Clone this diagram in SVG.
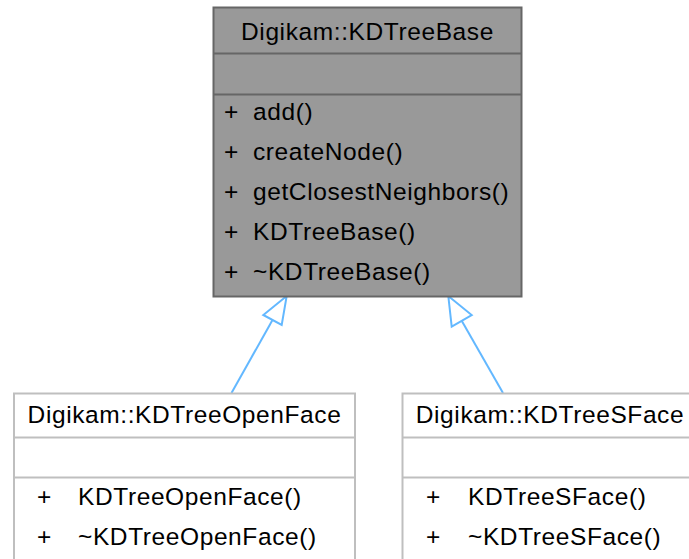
<svg xmlns="http://www.w3.org/2000/svg" width="689" height="559" viewBox="0 0 689 559">
<style>
text{font-family:"Liberation Sans",Arial,Helvetica,sans-serif;font-size:24.5px;letter-spacing:0.6px;fill:#000}
.t{text-anchor:middle}
.base rect,.base line{stroke:#666;stroke-width:2}
.base rect{fill:#999}
.der rect,.der line{stroke:#bfbfbf;stroke-width:2}
.der rect{fill:#fff}
.edge line{stroke:#63b8ff;stroke-width:2;fill:none}
.edge polygon{stroke:#63b8ff;stroke-width:2;fill:#fff}
</style>
<rect width="689" height="559" fill="#fff"/>
<g id="connectors" class="edge">
<line x1="231.5" y1="393" x2="272.5" y2="320"/>
<polygon points="286.7,296 263.3,315 281.7,325"/>
<line x1="503" y1="393" x2="461.7" y2="320.8"/>
<polygon points="448.3,296 451.7,326.7 471.7,315"/>
</g>
<g id="KDTreeBase" class="base">
<rect x="213.5" y="7.5" width="308" height="289"/>
<line x1="213.5" y1="53.5" x2="521.5" y2="53.5"/>
<line x1="213.5" y1="94.5" x2="521.5" y2="94.5"/>
<text class="t" x="367.5" y="40">Digikam::KDTreeBase</text>
<text x="224" y="120">+</text><text x="253" y="120">add()</text>
<text x="224" y="160">+</text><text x="253" y="160">createNode()</text>
<text x="224" y="200">+</text><text x="253" y="200">getClosestNeighbors()</text>
<text x="224" y="240">+</text><text x="253" y="240">KDTreeBase()</text>
<text x="224" y="280">+</text><text x="253" y="280">~KDTreeBase()</text>
</g>
<g id="KDTreeOpenFace" class="der">
<rect x="14" y="393.5" width="341" height="200"/>
<line x1="14" y1="437.5" x2="355" y2="437.5"/>
<line x1="14" y1="477.5" x2="355" y2="477.5"/>
<text class="t" x="184.5" y="423">Digikam::KDTreeOpenFace</text>
<text x="37" y="505">+</text><text x="78" y="505">KDTreeOpenFace()</text>
<text x="37" y="545">+</text><text x="78" y="545">~KDTreeOpenFace()</text>
</g>
<g id="KDTreeSFace" class="der">
<rect x="402.5" y="393.5" width="295" height="200"/>
<line x1="402.5" y1="437.5" x2="697.5" y2="437.5"/>
<line x1="402.5" y1="477.5" x2="697.5" y2="477.5"/>
<text class="t" x="550" y="423">Digikam::KDTreeSFace</text>
<text x="426" y="505">+</text><text x="468" y="505">KDTreeSFace()</text>
<text x="426" y="545">+</text><text x="468" y="545">~KDTreeSFace()</text>
</g>
</svg>
